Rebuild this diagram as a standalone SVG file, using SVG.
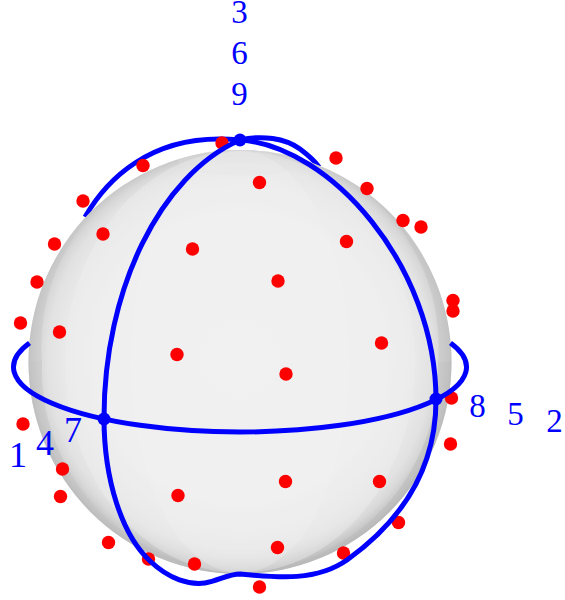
<svg xmlns="http://www.w3.org/2000/svg" width="565" height="600" viewBox="0 0 565 600">
<defs>
<radialGradient id="ball" gradientUnits="userSpaceOnUse" cx="240" cy="358" r="214">
<stop offset="0" stop-color="#f1f1f1"/>
<stop offset="0.68" stop-color="#eeeeee"/>
<stop offset="0.82" stop-color="#e9e9e9"/>
<stop offset="0.9" stop-color="#e2e2e2"/>
<stop offset="0.94" stop-color="#d8d8d8"/>
<stop offset="0.975" stop-color="#c8c8c8"/>
<stop offset="1" stop-color="#b8b8b8"/>
</radialGradient>
<clipPath id="ballClip"><ellipse cx="240" cy="362" rx="211.500" ry="212"/></clipPath>
</defs>
<style>
.c{fill:none;stroke:#0000ff;stroke-width:5}
.d{fill:#ff0000}
.n{fill:#0000ff}
.t{fill:#0000ff;font-family:"Liberation Serif","DejaVu Serif",serif;font-size:33px;text-anchor:middle}
.b{font-size:36px}
</style>
<g id="connectors-back">
<path class="c" d="M240 140C200 136 165 143 135 163C112 178 96 198 85 217"/>
<path class="c" d="M240 140C262 135 285 138 300 149C308 155 314 160 319 167"/>
</g>
<g id="sphere">
<ellipse cx="240" cy="362" rx="211.500" ry="212" fill="url(#ball)"/>
<g clip-path="url(#ballClip)">
<ellipse cx="240" cy="154" rx="32" ry="8" fill="#d6d6d6" opacity="0.700"/>
<ellipse cx="240" cy="160" rx="62" ry="16" fill="#dcdcdc" opacity="0.400"/>
<ellipse cx="240" cy="362" rx="175" ry="211" fill="#f2f2f2" opacity="0.350"/>
<ellipse cx="240" cy="362" rx="110" ry="211" fill="#f3f3f3" opacity="0.300"/>
<path d="M28 362A212 212 0 0 1 105 200A200 200 0 0 0 42 362Z" fill="#c6c6c6" opacity="0.500"/>
<path d="M452 362A212 212 0 0 0 375 200A200 200 0 0 1 438 362Z" fill="#c2c2c2" opacity="0.550"/>
<path d="M28 362A212 212 0 0 0 240 574A208 204 0 0 1 42 362Z" fill="#c2c2c2" opacity="0.500"/>
<path d="M452 362A212 212 0 0 1 240 574A208 204 0 0 0 438 362Z" fill="#bcbcbc" opacity="0.550"/>
</g>
</g>
<g id="points">
<circle class="d" cx="222" cy="143" r="6.700"/><circle class="d" cx="83" cy="201" r="6.700"/>
<circle class="d" cx="103" cy="234" r="6.700"/><circle class="d" cx="54.500" cy="244" r="6.700"/>
<circle class="d" cx="37" cy="282" r="6.700"/><circle class="d" cx="20.500" cy="323" r="6.700"/>
<circle class="d" cx="59.500" cy="332" r="6.700"/><circle class="d" cx="259.500" cy="182.500" r="6.700"/>
<circle class="d" cx="192.500" cy="249" r="6.700"/><circle class="d" cx="278" cy="281" r="6.700"/>
<circle class="d" cx="177" cy="354.500" r="6.700"/><circle class="d" cx="286" cy="374" r="6.700"/>
<circle class="d" cx="336" cy="158" r="6.700"/><circle class="d" cx="367" cy="188.500" r="6.700"/>
<circle class="d" cx="403" cy="220.500" r="6.700"/><circle class="d" cx="421" cy="227" r="6.700"/>
<circle class="d" cx="346.500" cy="241.500" r="6.700"/><circle class="d" cx="453" cy="300.500" r="6.700"/>
<circle class="d" cx="453" cy="311" r="6.700"/><circle class="d" cx="381.500" cy="343" r="6.700"/>
<circle class="d" cx="451.500" cy="398" r="6.700"/><circle class="d" cx="450.500" cy="444" r="6.700"/>
<circle class="d" cx="23" cy="424" r="6.700"/><circle class="d" cx="62.500" cy="469" r="6.700"/>
<circle class="d" cx="60.500" cy="496.500" r="6.700"/><circle class="d" cx="108.500" cy="542.500" r="6.700"/>
<circle class="d" cx="148.500" cy="559" r="6.700"/><circle class="d" cx="194.500" cy="564" r="6.700"/>
<circle class="d" cx="178" cy="495.500" r="6.700"/><circle class="d" cx="285.500" cy="481.500" r="6.700"/>
<circle class="d" cx="379.500" cy="481.500" r="6.700"/><circle class="d" cx="398.500" cy="522.500" r="6.700"/>
<circle class="d" cx="343.500" cy="553" r="6.700"/><circle class="d" cx="277.500" cy="547.500" r="6.700"/>
<circle class="d" cx="259.500" cy="587" r="6.700"/>
</g>
<g id="connectors">
<path class="c" d="M240 140C160 175 104 290 104 418C104 480 122 535 150 561C170 580 190 585 205 583C218 581 228 574 240 574C280 578 317 581 347 560C400 522 436 470 436 400C436 265 330 146 240 140"/>
<path class="c" d="M29.500 343A226.500 65 0 1 0 450.500 343"/>
</g>
<circle class="d" cx="143" cy="165.500" r="6.700"/>
<g id="node-9-6-3">
<circle class="n" cx="240" cy="140" r="6.500"/>
<text class="t" x="239.500" y="105">9</text>
<text class="t" x="239.500" y="64">6</text>
<text class="t" x="239.500" y="23">3</text>
</g>
<g id="node-7-4-1">
<circle class="n" cx="104" cy="419" r="6.500"/>
<text class="t b" x="73" y="442">7</text>
<text class="t b" x="45" y="455">4</text>
<text class="t b" x="18" y="467">1</text>
</g>
<g id="node-8-5-2">
<circle class="n" cx="436" cy="399" r="6.500"/>
<text class="t" x="477.500" y="417">8</text>
<text class="t" x="515.500" y="425">5</text>
<text class="t" x="554.500" y="432">2</text>
</g>
</svg>
